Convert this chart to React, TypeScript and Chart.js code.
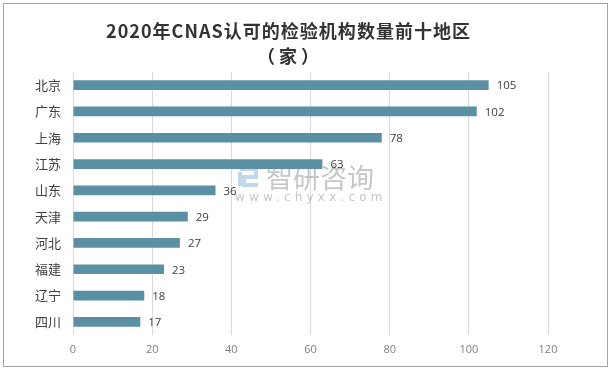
import React, { useEffect, useRef } from "react";
import { Chart, registerables } from "chart.js";

Chart.register(...registerables);

const titleLine1 = "2020年CNAS认可的检验机构数量前十地区";
const titleLine2 = "（家）";
const regions = ["北京", "广东", "上海", "江苏", "山东", "天津", "河北", "福建", "辽宁", "四川"];
const counts = [105, 102, 78, 63, 36, 29, 27, 23, 18, 17];
const xTicks = [0, 20, 40, 60, 80, 100, 120];
const watermarkMain = "智研咨询";
const watermarkSub = "www.chyxx.com";

const BAR_COLOR = "#5b8fa4";

const overlayPlugin = {
  id: "overlay",
  beforeDatasetsDraw(chart: any) {
    const ctx = chart.ctx;
    ctx.save();
    // watermark
    ctx.fillStyle = "rgba(160,160,160,0.6)";
    ctx.textAlign = "left";
    ctx.textBaseline = "middle";
    ctx.font = "27px 'Noto Sans CJK SC'";
    ctx.fillText(watermarkMain, 266, 178);
    ctx.font = "12px 'DejaVu Sans'";
    (ctx as any).letterSpacing = "4.2px";
    ctx.fillText(watermarkSub, 235, 198);
    (ctx as any).letterSpacing = "0px";
    // logo
    ctx.strokeStyle = "rgba(150,190,225,0.6)";
    ctx.lineWidth = 4;
    ctx.beginPath();
    ctx.moveTo(240, 169);
    ctx.lineTo(256, 169);
    ctx.lineTo(256, 177);
    ctx.lineTo(244, 177);
    ctx.lineTo(244, 185);
    ctx.lineTo(258, 185);
    ctx.stroke();
    ctx.beginPath();
    ctx.moveTo(240, 172);
    ctx.lineTo(240, 186);
    ctx.stroke();
    ctx.restore();
  },
  afterDatasetsDraw(chart: any) {
    const ctx = chart.ctx;
    ctx.save();
    // value labels
    const meta = chart.getDatasetMeta(0);
    ctx.fillStyle = "#404040";
    ctx.font = "11.5px 'Open Sans'";
    ctx.textAlign = "left";
    ctx.textBaseline = "middle";
    meta.data.forEach((bar: any, i: number) => {
      ctx.fillText(String(counts[i]), bar.x + 8, bar.y + 1);
    });
    // title
    ctx.fillStyle = "#333333";
    ctx.textAlign = "center";
    ctx.font = "bold 18px 'Noto Sans CJK SC'";
    const w = ctx.measureText(titleLine1).width;
    const target = 365;
    const n = Array.from(titleLine1).length;
    const ls = Math.max(0, (target - w) / n);
    (ctx as any).letterSpacing = ls.toFixed(2) + "px";
    ctx.fillText(titleLine1, 288 + ls / 2, 31);
    (ctx as any).letterSpacing = "4px";
    ctx.fillText(titleLine2, 290, 56);
    (ctx as any).letterSpacing = "0px";
    ctx.restore();
  },
};

export default function App() {
  const canvasRef = useRef<HTMLCanvasElement | null>(null);

  useEffect(() => {
    const canvas = canvasRef.current;
    if (!canvas) return;
    const chart = new Chart(canvas, {
      type: "bar",
      data: {
        labels: regions,
        datasets: [
          {
            data: counts,
            backgroundColor: BAR_COLOR,
            barPercentage: 0.37,
            categoryPercentage: 1,
          },
        ],
      },
      options: {
        indexAxis: "y",
        responsive: false,
        animation: false,
        layout: { padding: { top: 72, right: 63, left: 0, bottom: 0 } },
        plugins: {
          legend: { display: false },
          title: { display: false },
          tooltip: { enabled: false },
        },
        scales: {
          x: {
            min: 0,
            max: 120,
            afterBuildTicks: (scale: any) => {
              scale.ticks = xTicks.map((v) => ({ value: v }));
            },
            afterFit: (scale: any) => {
              scale.height = 35;
            },
            grid: { color: "#d9d9d9", drawTicks: false, lineWidth: 1 },
            border: { display: false },
            ticks: {
              color: "#7f7f7f",
              font: { family: "'Open Sans'", size: 11 },
              padding: 8,
            },
          },
          y: {
            afterFit: (scale: any) => {
              scale.width = 73;
            },
            grid: { display: false, drawTicks: false },
            border: { display: false },
            ticks: {
              color: "#404040",
              font: { family: "'Noto Sans CJK SC'", size: 13 },
              padding: 12,
            },
          },
        },
      },
      plugins: [overlayPlugin],
    } as any);
    return () => chart.destroy();
  }, []);

  return (
    <div
      style={{
        position: "fixed",
        left: 0,
        top: 0,
        width: 611,
        height: 370,
        background: "#ffffff",
      }}
    >
      <div
        style={{
          position: "absolute",
          left: 3,
          top: 3,
          width: 605,
          height: 364,
          boxSizing: "border-box",
          border: "1px solid #a6a6a6",
        }}
      />
      <canvas
        ref={canvasRef}
        width={611}
        height={370}
        style={{ position: "absolute", left: 0, top: 0, width: 611, height: 370 }}
      />
    </div>
  );
}
